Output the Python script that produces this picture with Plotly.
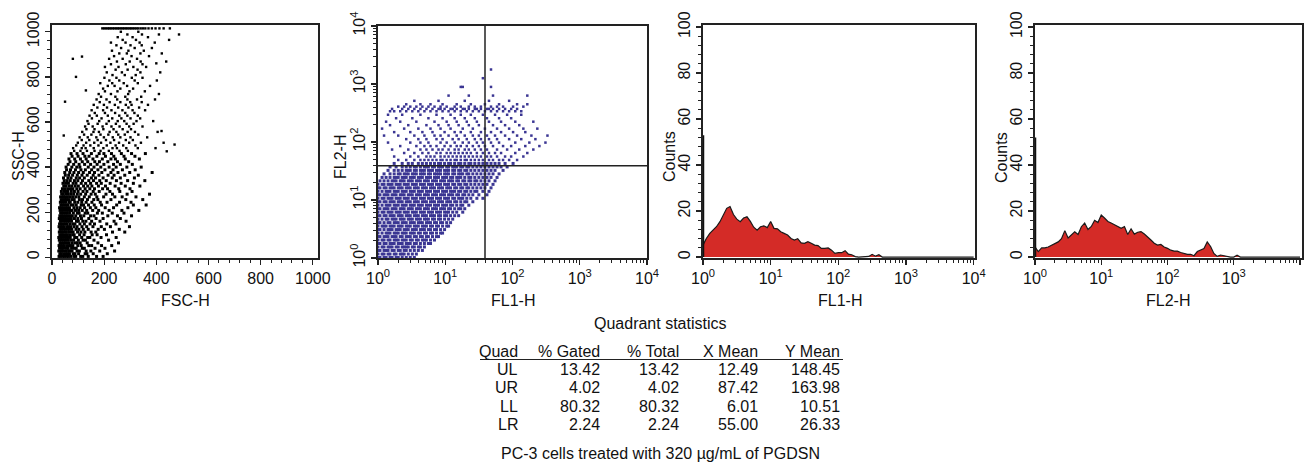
import plotly.graph_objects as go

# ---------------- data ----------------
# Panel 1: FSC-H vs SSC-H events, read row by row (SSC level -> FSC values of the events in that row)
fsc_ssc_rows = [
    (4, [27,33,42,48,57,63,72,84,91,110,118,139,171,196]),
    (16, [30,36,45,53,59,67,81,88,102,127,134,158,212]),
    (28, [26,34,39,47,55,64,69,77,96,105,131,149,183,240]),
    (40, [29,37,41,50,58,62,75,86,93,116,124,165,203]),
    (52, [27,32,40,46,56,65,71,80,99,112,141,152,190,229]),
    (64, [31,35,44,52,60,66,78,90,97,108,135,176,255]),
    (76, [28,36,43,49,54,63,74,83,101,119,128,161,217]),
    (88, [26,33,39,48,57,61,70,87,95,114,137,145,188,246]),
    (100, [30,38,42,51,59,68,79,85,106,123,154,173,209]),
    (112, [28,34,41,49,55,64,73,81,98,111,126,150,168,232,279]),
    (124, [31,37,45,52,61,67,76,92,103,120,139,177,201,258]),
    (136, [27,35,40,47,57,63,71,84,96,115,133,157,189,224,297]),
    (148, [29,33,43,50,58,69,80,88,107,124,146,163,210,245]),
    (160, [32,38,46,53,60,66,75,94,101,118,130,152,184,238,284]),
    (172, [28,36,41,49,56,65,74,86,99,113,141,169,196,262]),
    (184, [30,39,44,52,62,70,78,91,109,122,148,161,214,251,305]),
    (196, [33,37,47,55,59,68,82,97,104,127,137,174,193,231,276]),
    (208, [31,38,45,54,63,71,77,90,102,116,133,156,179,219,268,333]),
    (220, [29,36,43,51,58,67,84,96,108,125,147,168,204,236,291]),
    (232, [34,40,48,57,61,73,81,93,112,121,140,162,190,248,312,361]),
    (244, [32,39,46,53,65,70,87,99,114,131,153,185,211,259,303]),
    (256, [35,42,50,56,64,76,85,105,117,136,160,176,226,283,348]),
    (268, [33,44,49,59,68,79,91,103,124,143,172,198,241,269,322]),
    (280, [37,43,53,62,72,83,97,110,129,150,166,207,232,288,374]),
    (292, [36,47,55,61,74,86,100,119,134,158,181,222,260,307]),
    (304, [40,49,60,71,80,95,108,127,145,163,194,213,256,299]),
    (316, [45,54,66,76,89,101,121,137,153,178,205,242,281,337]),
    (328, [42,52,63,81,92,112,129,148,171,189,223,265,312]),
    (340, [47,58,70,86,99,117,141,159,183,208,247,290,356]),
    (352, [44,61,73,93,106,124,151,167,196,231,262,316]),
    (364, [51,64,79,97,115,135,158,180,215,238,279,331]),
    (376, [49,68,84,102,120,144,163,191,226,253,298,384]),
    (388, [56,71,90,111,128,152,176,203,234,270,319]),
    (400, [54,76,95,107,139,161,187,219,246,287,342]),
    (412, [62,83,104,125,148,173,199,236,262,308]),
    (424, [69,91,116,137,164,182,214,251,294]),
    (436, [65,87,109,131,157,193,226,243,281,335]),
    (448, [77,100,126,142,172,205,237,276,318]),
    (460, [73,96,119,151,181,199,228,266,305,358]),
    (472, [85,109,134,163,186,218,259,291]),
    (484, [81,114,129,160,197,232,249,285,329,397]),
    (496, [93,121,147,178,210,244,273,320]),
    (508, [99,131,162,188,224,257,296,341,428]),
    (520, [114,143,175,207,238,283,310]),
    (532, [106,137,170,199,233,262,301,365]),
    (544, [123,151,186,216,254,279,331]),
    (556, [116,159,180,221,247,290,318,405]),
    (568, [132,163,197,236,271,303]),
    (580, [127,156,194,228,259,296,347]),
    (592, [140,175,209,245,286,313]),
    (604, [136,181,218,252,277,324,388]),
    (616, [153,190,231,266,301,338]),
    (628, [144,172,214,258,289,329]),
    (640, [164,203,242,281,316]),
    (652, [152,196,228,270,309,357]),
    (664, [174,211,254,293,334]),
    (676, [160,199,241,283,305,368]),
    (688, [183,221,262,300,344]),
    (700, [171,209,250,289,326,395]),
    (712, [188,243,281,342]),
    (724, [179,226,292,410]),
    (736, [203,251,297,356]),
    (748, [196,262,311]),
    (760, [214,240,288,376]),
    (772, [185,231,275,329]),
    (784, [220,258,317,402]),
    (796, [201,247,306,347]),
    (808, [232,279,321]),
    (820, [210,268,339,415]),
    (832, [244,290,328]),
    (844, [203,255,312,361]),
    (856, [226,283,347]),
    (868, [249,298,340,438]),
    (880, [219,271,326]),
    (892, [238,305,372]),
    (904, [258,287,339,421]),
    (916, [230,293,352]),
    (928, [265,317,383]),
    (940, [247,301,344]),
    (952, [226,282,336,394]),
    (964, [271,322,449]),
    (976, [252,309,368]),
    (988, [289,345,410,487]),
    (1000, [264,331]),
    (1015, [193,200,207,214,220,226,233,239,246,252,258,265,271,277,284,290,297,303,310,317,324,331,
            340,349,358,370,383,397,412,428,452]),
]
fsc_ssc_outliers = [(45, 540), (50, 690), (80, 880), (115, 890), (130, 740), (470, 500), (440, 470),
                    (400, 860), (92, 800), (420, 560)]

# Panel 2: FL1-H vs FL2-H events, row by row (FL2 level -> FL1 values)
fl2_fl1_rows = [
    (1.02, [1.0,1.07,1.23,1.32,1.51,1.62,1.86,2.0,2.29,2.63,3.02,3.47]),
    (1.17, [1.0,1.15,1.23,1.41,1.51,1.74,1.86,2.14,2.29,2.45,2.82,3.24,3.72]),
    (1.35, [1.0,1.07,1.23,1.32,1.41,1.62,1.74,2.0,2.14,2.45,2.63,3.02,3.47,3.98,4.57]),
    (1.55, [1.0,1.15,1.23,1.41,1.51,1.62,1.86,2.0,2.29,2.45,2.63,2.82,3.24,3.47,3.98,4.27,4.9]),
    (1.78, [1.0,1.07,1.23,1.32,1.51,1.62,1.74,2.0,2.14,2.29,2.63,2.82,3.02,3.47,3.72,4.27,4.9,5.62,6.03]),
    (2.04, [1.0,1.15,1.23,1.41,1.51,1.74,1.86,2.0,2.29,2.45,2.63,3.02,3.24,3.72,3.98,4.57,4.9,5.25,6.03,6.92]),
    (2.34, [1.0,1.07,1.23,1.32,1.41,1.62,1.74,1.86,2.14,2.29,2.63,2.82,3.02,3.47,3.72,4.27,4.57,5.25,5.62,6.46,
            7.41,7.94]),
    (2.69, [1.0,1.15,1.32,1.41,1.51,1.74,1.86,2.0,2.29,2.45,2.63,3.02,3.24,3.47,3.98,4.27,4.9,5.25,6.03,6.46,
            7.41,8.51,9.12]),
    (3.09, [1.0,1.07,1.23,1.41,1.51,1.62,1.86,2.0,2.14,2.45,2.63,2.82,3.24,3.47,3.72,4.27,4.57,4.9,5.62,6.03,
            6.92,7.41,8.51,9.77]),
    (3.55, [1.0,1.15,1.23,1.32,1.51,1.62,1.74,2.0,2.14,2.29,2.63,2.82,3.02,3.47,3.72,3.98,4.57,4.9,5.25,6.03,
            6.46,7.41,7.94,9.12,10.5,11.2]),
    (4.07, [1.0,1.07,1.23,1.41,1.51,1.74,1.86,2.0,2.29,2.45,2.63,3.02,3.24,3.47,3.98,4.27,4.57,5.25,5.62,6.03,
            6.92,7.41,8.51,9.12,10.5,12.0]),
    (4.68, [1.0,1.15,1.32,1.41,1.62,1.74,1.86,2.14,2.29,2.45,2.82,3.02,3.24,3.72,3.98,4.27,4.9,5.25,5.62,6.46,
            6.92,7.94,8.51,9.77,11.2,12.9]),
    (5.37, [1.0,1.07,1.23,1.32,1.51,1.62,1.74,2.0,2.14,2.29,2.63,2.82,3.02,3.47,3.72,3.98,4.57,4.9,5.25,6.03,
            6.46,6.92,7.94,8.51,9.77,10.5,12.0,13.8,15.8]),
    (6.17, [1.0,1.15,1.23,1.41,1.51,1.62,1.86,2.0,2.14,2.45,2.63,2.82,3.24,3.47,3.72,4.27,4.57,4.9,5.62,6.03,
            6.46,7.41,7.94,8.51,9.77,10.5,11.2,12.9,14.8,18.2]),
    (7.08, [1.0,1.07,1.23,1.32,1.41,1.62,1.74,1.86,2.14,2.29,2.45,2.82,3.02,3.24,3.72,3.98,4.27,4.9,5.25,5.62,
            6.46,6.92,7.41,8.51,9.12,9.77,11.2,12.0,13.8,15.8,17.0,19.5]),
    (8.13, [1.0,1.15,1.32,1.41,1.51,1.74,1.86,2.0,2.29,2.45,2.63,3.02,3.24,3.47,3.98,4.27,4.57,5.25,5.62,6.03,
            6.92,7.41,7.94,9.12,9.77,10.5,12.0,12.9,14.8,17.0,18.2,22.4]),
    (9.33, [1.0,1.07,1.23,1.32,1.51,1.62,1.74,2.0,2.14,2.29,2.63,2.82,3.02,3.47,3.72,3.98,4.57,4.9,5.25,6.03,
            6.46,6.92,7.94,8.51,9.12,10.5,11.2,12.0,13.8,14.8,17.0,19.5,20.9,25.7]),
    (10.7, [1.0,1.15,1.23,1.41,1.51,1.62,1.86,2.0,2.14,2.45,2.63,2.82,3.24,3.47,3.72,4.27,4.57,4.9,5.62,6.03,
            6.46,7.41,7.94,8.51,9.77,10.5,11.2,12.9,13.8,15.8,17.0,18.2,20.9,24.0,29.5,36.3]),
    (12.3, [1.0,1.07,1.23,1.32,1.41,1.62,1.74,1.86,2.14,2.29,2.45,2.82,3.02,3.24,3.72,3.98,4.27,4.9,5.25,5.62,
            6.46,6.92,7.41,8.51,9.12,9.77,11.2,12.0,12.9,14.8,15.8,18.2,19.5,22.4,25.7,31.6,41.7]),
    (14.1, [1.0,1.15,1.32,1.41,1.51,1.74,1.86,2.0,2.29,2.45,2.63,3.02,3.24,3.47,3.98,4.27,4.57,5.25,5.62,6.03,
            6.92,7.41,7.94,9.12,9.77,10.5,12.0,12.9,13.8,15.8,17.0,19.5,20.9,24.0,27.5,29.5,36.3,44.7]),
    (16.2, [1.0,1.07,1.23,1.32,1.51,1.62,1.74,2.0,2.14,2.29,2.63,2.82,3.02,3.47,3.72,3.98,4.57,4.9,5.25,6.03,
            6.46,6.92,7.94,8.51,9.12,10.5,11.2,12.0,13.8,14.8,17.0,18.2,20.9,22.4,25.7,29.5,33.9,38.9,47.9]),
    (18.6, [1.0,1.15,1.23,1.41,1.51,1.62,1.86,2.0,2.14,2.45,2.63,2.82,3.24,3.47,3.72,4.27,4.57,4.9,5.62,6.03,
            6.46,7.41,7.94,8.51,9.77,10.5,11.2,12.9,13.8,15.8,17.0,19.5,20.9,24.0,27.5,31.6,36.3,41.7,51.3]),
    (21.4, [1.07,1.23,1.41,1.62,1.74,1.86,2.14,2.29,2.45,2.82,3.02,3.24,3.72,3.98,4.27,4.9,5.25,5.62,6.46,6.92,
            7.41,8.51,9.12,9.77,11.2,12.0,12.9,14.8,15.8,18.2,19.5,22.4,24.0,27.5,29.5,33.9,38.9,44.7,55.0]),
    (24.5, [1.15,1.32,1.51,1.74,1.86,2.0,2.29,2.45,2.63,3.02,3.24,3.47,3.98,4.27,4.57,5.25,5.62,6.03,6.92,7.41,
            7.94,9.12,9.77,10.5,12.0,12.9,14.8,15.8,17.0,19.5,22.4,24.0,27.5,31.6,36.3,41.7,47.9,58.9]),
    (28.2, [1.23,1.51,1.74,2.0,2.14,2.45,2.63,2.82,3.24,3.47,3.72,4.27,4.57,4.9,5.62,6.03,6.92,7.41,7.94,8.51,
            9.77,10.5,11.2,12.9,13.8,15.8,17.0,18.2,20.9,22.4,25.7,29.5,33.9,38.9,44.7,51.3,63.1]),
    (32.4, [1.41,1.74,2.0,2.29,2.63,2.82,3.02,3.47,3.72,4.27,4.57,4.9,5.62,6.03,6.46,7.41,7.94,8.51,9.77,10.5,
            11.2,12.9,13.8,15.8,17.0,19.5,20.9,24.0,27.5,31.6,36.3,41.7,47.9,55.0,72.4]),
    (37.2, [1.51,1.86,2.29,2.63,3.02,3.47,3.72,4.27,4.9,5.25,5.62,6.46,6.92,7.94,8.51,9.12,10.5,11.2,12.9,13.8,
            14.8,17.0,18.2,20.9,22.4,25.7,29.5,33.9,38.9,44.7,51.3,58.9,67.6,83.2]),
    (42.7, [1.74,2.29,2.82,3.24,3.98,4.57,5.25,6.03,6.92,7.94,8.51,9.77,11.2,12.0,13.8,15.8,17.0,19.5,22.4,24.0,
            27.5,31.6,36.3,41.7,47.9,55.0,63.1,77.6,102]),
    (49.0, [2.0,2.63,3.47,4.27,4.9,5.62,6.46,7.41,8.51,9.12,10.5,12.0,13.8,14.8,17.0,19.5,20.9,24.0,27.5,31.6,
            36.3,44.7,51.3,63.1,72.4,89.1,117]),
    (56.2, [1.74,3.02,3.98,5.25,6.03,6.92,8.51,9.77,11.2,12.9,14.8,17.0,19.5,22.4,25.7,29.5,33.9,41.7,47.9,58.9,
            77.6,95.5,145]),
    (64.6, [2.45,3.47,4.57,5.62,7.41,8.51,10.5,12.0,13.8,15.8,18.2,20.9,24.0,29.5,36.3,44.7,55.0,67.6,110,166]),
    (74.1, [1.62,2.82,4.27,5.25,6.46,7.94,9.12,11.2,13.8,15.8,19.5,22.4,27.5,33.9,41.7,58.9,83.2,126,204]),
    (85.1, [2.14,3.72,4.9,6.03,7.41,9.77,12.0,14.8,17.0,20.9,25.7,31.6,38.9,51.3,72.4,95.5,155,251]),
    (97.7, [1.41,3.02,4.27,5.62,8.51,10.5,13.8,18.2,22.4,29.5,36.3,47.9,63.1,110,178,309]),
    (112, [2.63,3.98,5.25,7.41,9.12,12.9,15.8,20.9,27.5,33.9,44.7,58.9,89.1,135,219]),
    (129, [1.23,2.0,3.47,4.9,6.92,8.51,11.2,14.8,19.5,25.7,31.6,41.7,55.0,77.6,117,191,331]),
    (148, [1.74,3.02,4.57,6.46,9.77,13.8,17.0,24.0,33.9,47.9,67.6,102,155]),
    (170, [1.15,2.45,3.98,6.03,8.51,12.0,18.2,25.7,38.9,58.9,89.1,145,234]),
    (195, [1.51,2.82,5.25,7.94,11.2,15.8,22.4,31.6,51.3,77.6,126]),
    (224, [1.32,2.14,3.72,6.92,10.5,14.8,20.9,29.5,44.7,67.6,110,204]),
    (257, [1.86,3.24,5.62,9.12,13.8,19.5,27.5,41.7,63.1,95.5]),
    (295, [1.41,2.29,4.27,7.41,12.0,17.0,24.0,36.3,55.0,83.2,135]),
    (339, [1.51,1.74,2.14,2.63,3.24,3.98,4.9,6.03,7.41,9.12,11.2,13.8,17.0,20.9,25.7,31.6,38.9,47.9,58.9,72.4,
           89.1,110,135]),
    (372, [1.62,2.29,2.82,3.47,4.27,5.25,6.46,7.94,8.51,9.77,12.0,12.9,14.8,18.2,19.5,22.4,27.5,29.5,33.9,
           41.7,44.7,51.3,63.1,77.6,95.5,117]),
    (407, [2.0,2.45,3.02,3.72,4.57,5.62,6.92,8.51,10.5,13.8,17.0,22.4,27.5,33.9,47.9,58.9,72.4,102,145]),
    (447, [2.63,4.27,6.03,9.12,14.8,24.0,38.9,63.1,117,166]),
    (513, [3.47,7.94,19.5,44.7,89.1]),
    (631, [11.2,22.4,51.3,166]),
    (891, [17.0,18.2,47.9]),
    (1259, [36.3]),
    (1778, [47.9]),
]
quad_x = 39.0
quad_y = 39.0

# Histograms (channel value -> counts)
hist_channels = [1.00, 1.12, 1.26, 1.41, 1.58, 1.78, 2.00, 2.24, 2.51, 2.82, 3.16, 3.55, 3.98, 4.47, 5.01, 5.62,
    6.31, 7.08, 7.94, 8.91, 10.0, 11.2, 12.6, 14.1, 15.8, 17.8, 20.0, 22.4, 25.1, 28.2, 31.6, 35.5, 39.8, 44.7,
    50.1, 56.2, 63.1, 70.8, 79.4, 89.1, 100, 112, 126, 141, 158, 178, 200, 224, 251, 282, 316, 355, 398, 447,
    501, 562, 631, 708, 794, 891, 1000, 1122, 1259, 10000]
fl1_counts = [5.2, 8.1, 10.3, 11.7, 13.2, 15.4, 18.3, 21.2, 22.0, 18.5, 16.5, 15.4, 17.0, 17.5, 15.5, 13.0, 11.7,
    13.2, 13.6, 12.8, 15.5, 12.5, 12.3, 11.0, 10.3, 9.6, 8.1, 7.4, 8.0, 6.2, 6.0, 6.7, 6.0, 5.2, 5.0, 3.8, 3.8,
    4.0, 3.0, 1.6, 1.9, 1.9, 2.8, 1.3, 1.0, 0.2, 0, 0, 0, 0.3, 1.2, 0.4, 1.0, 0, 0, 0, 0, 0, 0, 0, 0, 0, 0, 0]
fl2_counts = [4.4, 2.4, 4.0, 4.0, 4.4, 5.2, 5.9, 6.6, 8.0, 11.5, 8.3, 9.6, 11.0, 9.8, 13.2, 14.8, 12.0, 13.3,
    16.0, 15.0, 18.3, 17.0, 15.5, 14.8, 14.0, 13.3, 12.5, 13.3, 9.8, 12.3, 10.0, 10.8, 11.1, 10.0, 8.9, 7.4, 6.0,
    5.2, 5.5, 4.4, 3.8, 3.0, 2.6, 2.6, 2.0, 1.5, 1.2, 1.2, 0.6, 2.4, 3.0, 3.7, 6.6, 4.6, 1.6, 0.3, 0.9, 0.6, 0,
    0, 0, 0.8, 0, 0]
fl1_first_channel = 53
fl2_first_channel = 52

# Quadrant statistics table
quad_names = ["UL", "UR", "LL", "LR"]
pct_gated = [13.42, 4.02, 80.32, 2.24]
pct_total = [13.42, 4.02, 80.32, 2.24]
x_mean = [12.49, 87.42, 6.01, 55.00]
y_mean = [148.45, 163.98, 10.51, 26.33]
table_headers = ["Quad", "% Gated", "% Total", "X Mean", "Y Mean"]
caption = "PC-3 cells treated with 320 µg/mL of PGDSN"

lin_ticks = [0, 200, 400, 600, 800, 1000]
count_ticks = [0, 20, 40, 60, 80, 100]
log_ticks = [1, 10, 100, 1000, 10000]
log_ticktext = ["10<sup>0</sup>", "10<sup>1</sup>", "10<sup>2</sup>", "10<sup>3</sup>", "10<sup>4</sup>"]

# ---------------- figure ----------------
W, H = 1307, 462
FONT = "Liberation Sans, Arial, sans-serif"
DOT_BLUE = "#3b3693"
RED = "#d42b27"


def xd(a, b):
    return [a / W, b / W]


def yd(top, bottom):
    return [1 - bottom / H, 1 - top / H]


def rows_to_xy(rows, dense_below, big, small):
    xs, ys, ss = [], [], []
    for level, vals in rows:
        for v in vals:
            xs.append(v)
            ys.append(level)
            ss.append(big if level < dense_below else small)
    return xs, ys, ss


fig = go.Figure()

x, y, s = rows_to_xy(fsc_ssc_rows, 470, 3.0, 2.4)
x += [p[0] for p in fsc_ssc_outliers]
y += [p[1] for p in fsc_ssc_outliers]
s += [2.4] * len(fsc_ssc_outliers)
fig.add_trace(go.Scatter(x=x, y=y, mode="markers", xaxis="x", yaxis="y",
                         marker=dict(symbol="square", size=s, color="black", opacity=1, line_width=0)))

x, y, s = rows_to_xy(fl2_fl1_rows, 45, 3.0, 2.5)
fig.add_trace(go.Scatter(x=x, y=y, mode="markers", xaxis="x2", yaxis="y2",
                         marker=dict(symbol="square", size=s, color=DOT_BLUE, opacity=1, line_width=0)))
# quadrant lines
fig.add_trace(go.Scatter(x=[quad_x, quad_x], y=[1, 10000], mode="lines", xaxis="x2", yaxis="y2",
                         line=dict(color="#222", width=1.5)))
fig.add_trace(go.Scatter(x=[1, 10000], y=[quad_y, quad_y], mode="lines", xaxis="x2", yaxis="y2",
                         line=dict(color="#222", width=1.5)))

# histograms
for counts, first, xa, ya in [(fl1_counts, fl1_first_channel, "x3", "y3"),
                              (fl2_counts, fl2_first_channel, "x4", "y4")]:
    fig.add_trace(go.Scatter(x=hist_channels, y=counts, mode="lines", xaxis=xa, yaxis=ya,
                             fill="tozeroy", fillcolor=RED, line=dict(color="#1a1a1a", width=1.2)))
    fig.add_trace(go.Scatter(x=[1, 1], y=[0, first], mode="lines", xaxis=xa, yaxis=ya,
                             line=dict(color="#111", width=2.5)))

tickfont = dict(family=FONT, size=16, color="#111")


def base_axis(**kw):
    d = dict(showline=True, linecolor="#222", linewidth=1.6, mirror=True, ticks="outside", ticklen=5,
             tickwidth=1.3, tickcolor="#222", showgrid=False, zeroline=False, tickfont=tickfont,
             fixedrange=True, automargin=False)
    d.update(kw)
    return d


lin_minor = dict(tickmode="array", tickvals=[v for v in range(0, 1021, 40) if v % 200], ticks="outside",
                 ticklen=3, tickwidth=1, tickcolor="#222")
cnt_minor = dict(tickmode="array", tickvals=[v for v in range(0, 101, 4) if v % 20], ticks="outside",
                 ticklen=3, tickwidth=1, tickcolor="#222")
log_minor = dict(tickmode="array", tickvals=[m * 10 ** e for e in range(4) for m in range(2, 10)],
                 ticks="outside", ticklen=3, tickwidth=1, tickcolor="#222")


def log_axis(domain, rng, angle=0):
    return base_axis(type="log", domain=domain, range=rng, tickmode="array", tickvals=log_ticks,
                     ticktext=log_ticktext, minor=log_minor, tickangle=angle)


fig.update_layout(
    template="none",
    width=W, height=H, margin=dict(l=0, r=0, t=0, b=0, autoexpand=False),
    paper_bgcolor="white", plot_bgcolor="white", showlegend=False, hovermode=False,
    font=dict(family=FONT, color="#111"),
    xaxis=base_axis(domain=xd(52, 318), range=[0, 1020], tickmode="array", tickvals=lin_ticks,
                    minor=lin_minor, anchor="y"),
    yaxis=base_axis(domain=yd(25, 258), range=[-3, 1030], tickmode="array", tickvals=lin_ticks,
                    minor=lin_minor, tickangle=-90, anchor="x"),
    xaxis2=log_axis(xd(378, 647), [0, 4]) | dict(anchor="y2"),
    yaxis2=log_axis(yd(26, 258), [0, 4], -90) | dict(anchor="x2"),
    xaxis3=log_axis(xd(703, 975), [0, 4.02]) | dict(anchor="y3"),
    yaxis3=base_axis(domain=yd(25, 258), range=[-0.4, 100.9], tickmode="array", tickvals=count_ticks,
                     minor=cnt_minor, tickangle=-90, anchor="x3"),
    xaxis4=log_axis(xd(1035, 1302), [0, 4.03]) | dict(anchor="y4"),
    yaxis4=base_axis(domain=yd(25, 258), range=[-0.4, 100.9], tickmode="array", tickvals=count_ticks,
                     minor=cnt_minor, tickangle=-90, anchor="x4"),
)

ann = []


def add_text(text, px, py, size=16, xanchor="center", angle=0):
    ann.append(dict(text=text, x=px / W, y=1 - py / H, xref="paper", yref="paper", showarrow=False,
                    xanchor=xanchor, yanchor="middle", textangle=angle,
                    font=dict(family=FONT, size=size, color="#111")))


# axis titles
add_text("FSC-H", 185, 300)
add_text("FL1-H", 513, 300)
add_text("FL1-H", 840, 300)
add_text("FL2-H", 1168, 300)
add_text("SSC-H", 18, 156, angle=-90)
add_text("FL2-H", 340, 157, angle=-90)
add_text("Counts", 669, 157, angle=-90)
add_text("Counts", 1001, 157, angle=-90)

# table
add_text("Quadrant statistics", 660, 323)
col_right = [520, 602, 681, 760, 842]
for cx, h in zip(col_right, table_headers):
    add_text(h, cx, 351, xanchor="right")
row_y = [369, 387.5, 406, 424.5]
for i, ry in enumerate(row_y):
    vals = [quad_names[i], f"{pct_gated[i]:.2f}", f"{pct_total[i]:.2f}", f"{x_mean[i]:.2f}", f"{y_mean[i]:.2f}"]
    for cx, v in zip(col_right, vals):
        add_text(v, cx, ry, xanchor="right")
add_text(caption, 660, 453)

fig.update_layout(annotations=ann, shapes=[dict(type="line", xref="paper", yref="paper",
                  x0=480 / W, x1=843 / W, y0=1 - 359.5 / H, y1=1 - 359.5 / H,
                  line=dict(color="#222", width=1.2))])

fig.write_html("out.html", config={"displayModeBar": False, "staticPlot": True},
               post_script="document.body.style.margin='0';document.body.style.padding='0';")
